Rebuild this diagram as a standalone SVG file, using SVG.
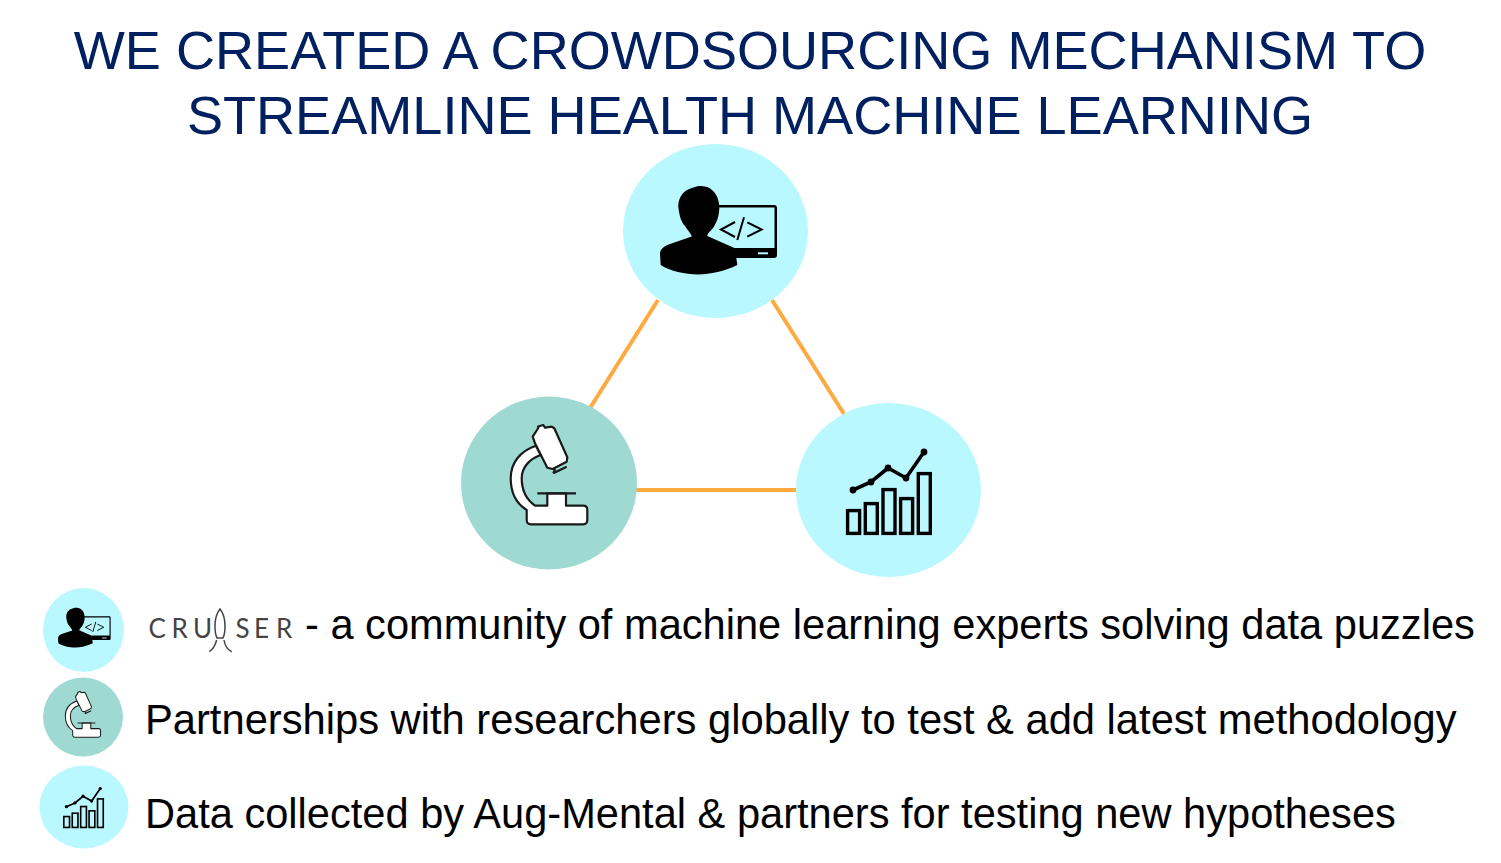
<svg xmlns="http://www.w3.org/2000/svg" xmlns:xlink="http://www.w3.org/1999/xlink" width="1501" height="863" viewBox="0 0 1501 863">
<style>
.t{font-family:"Liberation Sans",Arial,sans-serif;fill:#002060;font-size:54.1px;text-anchor:middle}
.b{font-family:"Liberation Sans",Arial,sans-serif;fill:#000;font-size:41.6px}
.logo{font-family:Lato,"Liberation Sans",sans-serif;font-weight:400;fill:#444;font-size:26px}
.cy{fill:#b9f8ff}.te{fill:#9fdad2}
.c{stroke:#ffa93f;stroke-width:4;fill:none}
.s{fill:#fff;stroke:#1a1a1a;stroke-width:2.2;stroke-linejoin:round}
</style>
<defs>
<g id="person">
<path d="M718 205H774Q777 205 777 208V255Q777 258 774 258H735V248H774.5V207.5H718Z" fill="#000"/>
<rect x="758" y="252.3" width="10" height="2" fill="#b9f8ff"/>
<path d="M699 186C702 186 704 186 707 187C715 190 719 198 719.3 207C719.5 215 717 222 713 228C710 232 707 234 707.3 236L735 248.3L737.3 265C725 271 710 274.5 698.3 274.5C685 274.5 670 271 660.7 265L660 254C660 249 664 246 670 244L691.7 236.5C691.5 234 688 231 685 226C681 222 679.5 216 678.3 207C678 197 684 190 692 188C695 187 697 186 699 186Z" fill="#000"/>
<g fill="none" stroke="#000" stroke-width="2">
<path d="M735 222L721 229.5L735 237"/><path d="M744 217.3L737.3 240"/><path d="M747.3 222.3L761.7 229.5L747.3 236.7"/>
</g>
</g>
<g id="scope">
<path d="M536 445.7C520 451 510.7 463 510.7 478.3C510.7 493 517 504 526.7 510V520Q526.7 524.3 531 524.3H583Q587.3 524.3 587.3 520V510Q587.3 505.7 583 505.7H566V493.3H547.3V505.7H535C527 500 521.7 490 521.7 478.3C521.7 468 529 459 540.7 455Z" class="s"/>
<path d="M532.7 436.7L538.3 428L538 426.5L543.3 425L545 427.7L551.7 426.7L554.3 428.3L567.3 457.3L566.7 461.7L552.7 469L547.3 467.7L535 443.3Z" class="s"/>
<path d="M553.3 473.3L566.7 466.7M555 469L553.3 473.3M537.3 493.3H576" fill="none" stroke="#1a1a1a" stroke-width="2.2"/>
</g>
<g id="chart">
<g fill="none" stroke="#000" stroke-width="3.4">
<rect x="847.6" y="510.6" width="12" height="22.8"/>
<rect x="865.3" y="503.6" width="12" height="29.8"/>
<rect x="883" y="489.6" width="12" height="43.8"/>
<rect x="900.6" y="498.6" width="12" height="34.8"/>
<rect x="918.3" y="473.6" width="12" height="59.8"/>
<path d="M853 490L871 482L888 468L906 478L924 452" stroke-width="3.6"/>
</g>
<g fill="#000"><circle cx="853" cy="490" r="3.4"/><circle cx="871" cy="482" r="3.4"/><circle cx="888" cy="468" r="3.4"/><circle cx="906" cy="478" r="3.4"/><circle cx="924" cy="452" r="3.4"/></g>
</g>
</defs>
<text class="t" x="750" y="69">WE CREATED A CROWDSOURCING MECHANISM TO</text>
<text class="t" x="750" y="134">STREAMLINE HEALTH MACHINE LEARNING</text>
<g id="connectors">
<line class="c" x1="590" y1="408" x2="658" y2="300"/>
<line class="c" x1="772" y1="300" x2="844" y2="414"/>
<line class="c" x1="636" y1="490" x2="797" y2="490"/>
</g>
<g id="node-experts"><ellipse class="cy" cx="715.5" cy="231" rx="92.5" ry="87"/><use xlink:href="#person" href="#person"/></g>
<g id="node-research"><ellipse class="te" cx="549" cy="483" rx="88" ry="86.5"/><use xlink:href="#scope" href="#scope"/></g>
<g id="node-data"><ellipse class="cy" cx="888.5" cy="490" rx="92.5" ry="87"/><use xlink:href="#chart" href="#chart"/></g>
<g id="legend-experts"><ellipse class="cy" cx="83.5" cy="630" rx="40.5" ry="42"/><use xlink:href="#person" href="#person" transform="translate(-239 524) scale(.45)"/>
<text class="logo" x="148.5 171.5 193" y="637.5">CRU</text><text class="logo" x="235.5 254 276" y="637.5">SER</text>
<g fill="none" stroke="#444" stroke-width="1.5"><path d="M220 609C216 614 215 620 215 626C215 632 216 636 217 638H223C224 636 225 632 225 626C225 620 224 614 220 609Z"/><path d="M216.7 640C215 646 212 650 209.3 651.7M224 640C225 646 228 650 231.7 651.7"/></g>
<text class="b" x="305" y="639">- a community of machine learning experts solving data puzzles</text></g>
<g id="legend-research"><ellipse class="te" cx="83" cy="717" rx="40" ry="39.5"/><use xlink:href="#scope" href="#scope" transform="translate(-169.6 496) scale(.46)"/>
<text class="b" x="145" y="733.5" style="font-size:41.7px">Partnerships with researchers globally to test &amp; add latest methodology</text></g>
<g id="legend-data"><ellipse class="cy" cx="84" cy="807" rx="44.5" ry="41.5"/><use xlink:href="#chart" href="#chart" transform="translate(-340.5 573) scale(.477)"/>
<text class="b" x="145" y="828">Data collected by Aug-Mental &amp; partners for testing new hypotheses</text></g>
</svg>
